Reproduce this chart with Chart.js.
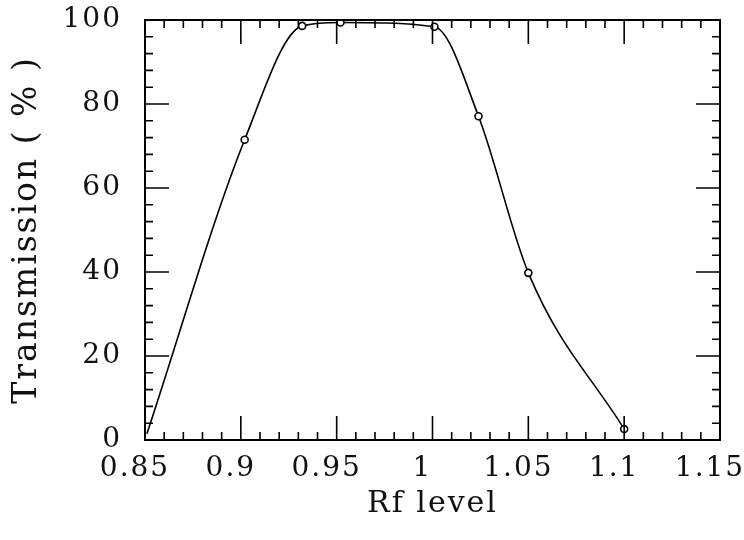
<!DOCTYPE html>
<html>
<head>
<meta charset="utf-8">
<script src="https://cdn.jsdelivr.net/npm/chart.js@4"></script>
<style>
  body { margin: 0; background: #fff; }
  #wrap { width: 744px; height: 540px; }
</style>
</head>
<body>
<div id="wrap"><canvas id="grafico"></canvas></div>
<script>
// Dados
const rfLevel = [0.851, 0.902, 0.932, 0.952, 1.001, 1.024, 1.050, 1.100];
const transmissao = [1.5, 71.5, 98.6, 99.4, 98.4, 77.1, 39.8, 2.6];
const xTicks = [0.85, 0.9, 0.95, 1, 1.05, 1.1, 1.15];
const xTickLabels = ['0.85', '0.9', '0.95', '1', '1.05', '1.1', '1.15'];
const yTicks = [0, 20, 40, 60, 80, 100];
const yTickLabels = ['0', '20', '40', '60', '80', '100'];

const fonte = 'DejaVu Serif';

// espaco entre letras, so para os textos dos eixos
const espacamento = {
    id: 'espacamento',
    beforeDraw(chart) { chart.ctx.letterSpacing = '2px'; },
    beforeDatasetsDraw(chart) { chart.ctx.letterSpacing = '0px'; }
};

// moldura e marcas para dentro nos quatro lados
const moldura = {
    id: 'moldura',
    afterDatasetsDraw(chart) {
        const { ctx, chartArea: a, scales: { x, y } } = chart;
        ctx.save();
        ctx.strokeStyle = '#000';
        ctx.lineWidth = 2;
        ctx.strokeRect(a.left, a.top, a.right - a.left, a.bottom - a.top);
        ctx.lineWidth = 1.6;
        ctx.beginPath();
        for (let i = 0; i <= 30; i++) {
            const px = x.getPixelForValue(0.85 + i * 0.01);
            const len = i % 5 === 0 ? 24 : 8;
            ctx.moveTo(px, a.bottom); ctx.lineTo(px, a.bottom - len);
            ctx.moveTo(px, a.top); ctx.lineTo(px, a.top + len);
        }
        for (let i = 0; i <= 25; i++) {
            const py = y.getPixelForValue(i * 4);
            const len = i % 5 === 0 ? 24 : 8;
            ctx.moveTo(a.left, py); ctx.lineTo(a.left + len, py);
            ctx.moveTo(a.right, py); ctx.lineTo(a.right - len, py);
        }
        ctx.stroke();
        ctx.restore();
    }
};

function criarGrafico() {
    const ctx = document.getElementById('grafico').getContext('2d');
    return new Chart(ctx, {
        type: 'scatter',
        data: {
            datasets: [{
                data: rfLevel.map((v, i) => ({ x: v, y: transmissao[i] })),
                showLine: true,
                cubicInterpolationMode: 'monotone',
                borderColor: '#000',
                borderWidth: 1.6,
                pointRadius: c => c.dataIndex === 0 ? 0 : 3.5,
                pointBorderWidth: 1.6,
                pointBorderColor: '#000',
                pointBackgroundColor: '#fff'
            }]
        },
        options: {
            responsive: true,
            maintainAspectRatio: false,
            animation: false,
            devicePixelRatio: 1,
            layout: { padding: { top: 20, right: 24, left: 0, bottom: 0 } },
            plugins: { legend: { display: false }, tooltip: { enabled: false } },
            scales: {
                x: {
                    type: 'linear', min: 0.85, max: 1.15,
                    afterBuildTicks: s => { s.ticks = xTicks.map(v => ({ value: v })); },
                    afterFit: s => { s.height = 100; s.paddingLeft = 0; s.paddingRight = 0; },
                    grid: { display: false },
                    border: { display: false },
                    ticks: {
                        padding: 4, color: '#111', labelOffset: -10,
                        font: { family: fonte, size: 28 },
                        callback: (v, i) => xTickLabels[i]
                    },
                    title: {
                        display: true, text: 'Rf level', color: '#111',
                        font: { family: fonte, size: 30 },
                        padding: { top: 0, bottom: 18 }
                    }
                },
                y: {
                    type: 'linear', min: 0, max: 100,
                    afterBuildTicks: s => { s.ticks = yTicks.map(v => ({ value: v })); },
                    afterFit: s => { s.width = 145; s.paddingTop = 0; s.paddingBottom = 0; },
                    grid: { display: false },
                    border: { display: false },
                    ticks: {
                        padding: 15, color: '#111',
                        font: { family: fonte, size: 28 },
                        callback: (v, i) => yTickLabels[i]
                    },
                    title: {
                        display: true, text: 'Transmission ( % )', color: '#111',
                        font: { family: fonte, size: 33 },
                        padding: { top: 8, bottom: 0 }
                    }
                }
            }
        },
        plugins: [espacamento, moldura]
    });
}

document.addEventListener('DOMContentLoaded', criarGrafico);
</script>
</body>
</html>
